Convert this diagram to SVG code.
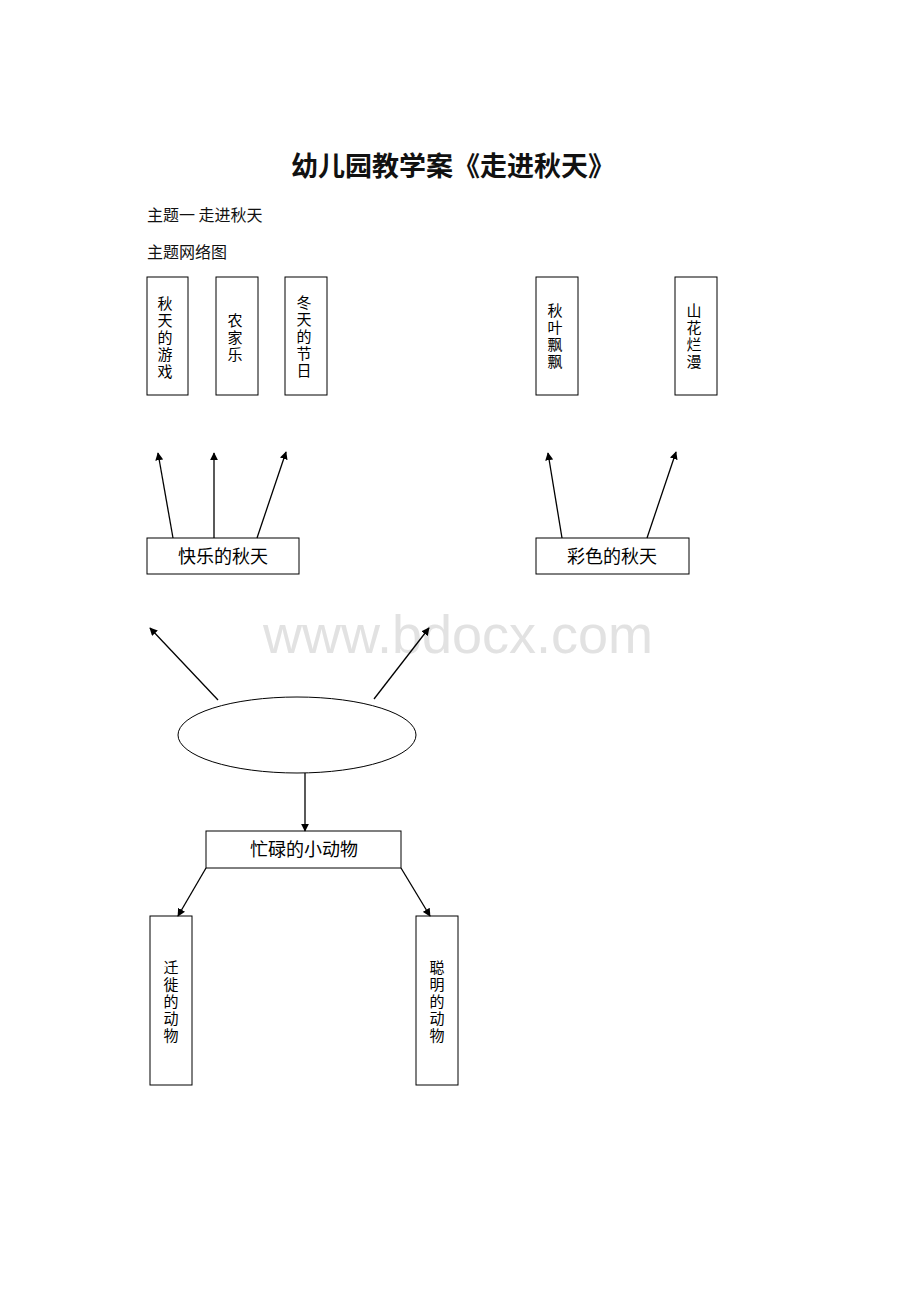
<svg xmlns="http://www.w3.org/2000/svg" width="920" height="1302" viewBox="0 0 920 1302">
<style>
.box{fill:#fff;stroke:#000;stroke-width:1}
.t{font-family:"Noto Sans CJK SC","Liberation Sans",sans-serif;font-size:18px;fill:#000;text-anchor:middle}
.v{font-family:"Noto Sans CJK SC","Liberation Sans",sans-serif;font-size:15px;fill:#000;text-anchor:middle;writing-mode:vertical-rl;letter-spacing:2px}
.h{font-family:"Noto Sans CJK SC","Liberation Serif",serif;fill:#111}
.c{stroke:#000;stroke-width:1.3;fill:none;marker-end:url(#ah)}
</style>
<defs>
<marker id="ah" viewBox="0 0 10 10" refX="9" refY="5" markerWidth="8" markerHeight="8" markerUnits="userSpaceOnUse" orient="auto">
<path d="M0,0 L10,5 L0,10 z" fill="#000"/>
</marker>
</defs>
<rect width="920" height="1302" fill="#fff"/>
<text x="458" y="653" font-family="Liberation Sans,Arial,sans-serif" font-size="54" fill="#e2e2e2" text-anchor="middle">www.bdocx.com</text>
<text class="h" x="453" y="176" font-size="27" font-weight="bold" text-anchor="middle">幼儿园教学案《走进秋天》</text>
<text class="h" x="147" y="221" font-size="16">主题一 走进秋天</text>
<text class="h" x="147" y="258" font-size="16">主题网络图</text>

<g id="n1"><rect class="box" x="147" y="277" width="41" height="118"/>
<text class="v" x="165" y="338">秋天的游戏</text></g>
<g id="n2"><rect class="box" x="216" y="277" width="42" height="118"/>
<text class="v" x="235" y="338">农家乐</text></g>
<g id="n3"><rect class="box" x="285" y="277" width="42" height="118"/>
<text class="v" x="304" y="337">冬天的节日</text></g>
<g id="n4"><rect class="box" x="536" y="277" width="42" height="118"/>
<text class="v" x="555" y="337">秋叶飘飘</text></g>
<g id="n5"><rect class="box" x="675" y="277" width="42" height="118"/>
<text class="v" x="694" y="337">山花烂漫</text></g>

<g id="n6"><rect class="box" x="147" y="538" width="152" height="36"/>
<text class="t" x="223" y="563">快乐的秋天</text></g>
<g id="n7"><rect class="box" x="536" y="538" width="153" height="36"/>
<text class="t" x="612" y="563">彩色的秋天</text></g>

<g id="n8"><ellipse class="box" cx="297" cy="735" rx="119" ry="38"/></g>

<g id="n9"><rect class="box" x="206" y="831" width="195" height="37"/>
<text class="t" x="304" y="856">忙碌的小动物</text></g>

<g id="n10"><rect class="box" x="150" y="916" width="42" height="169"/>
<text class="v" x="171" y="1002">迁徙的动物</text></g>
<g id="n11"><rect class="box" x="416" y="916" width="42" height="169"/>
<text class="v" x="437" y="1002">聪明的动物</text></g>

<g id="connectors">
<line class="c" x1="173" y1="538" x2="158" y2="453"/>
<line class="c" x1="214" y1="538" x2="214" y2="453"/>
<line class="c" x1="257" y1="538" x2="286" y2="452"/>
<line class="c" x1="562" y1="538" x2="548" y2="453"/>
<line class="c" x1="647" y1="538" x2="676" y2="452"/>
<line class="c" x1="218" y1="700" x2="150" y2="628"/>
<line class="c" x1="374" y1="699" x2="429" y2="628"/>
<line class="c" x1="305" y1="773" x2="305" y2="831"/>
<line class="c" x1="206" y1="868" x2="178" y2="916"/>
<line class="c" x1="401" y1="868" x2="430" y2="916"/>
</g>
</svg>
